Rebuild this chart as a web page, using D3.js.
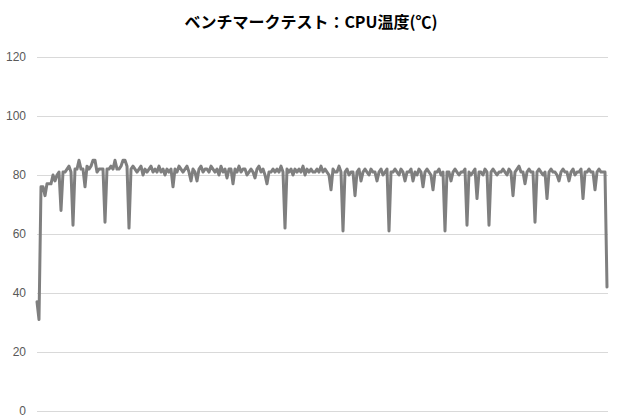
<!DOCTYPE html>
<html>
<head>
<meta charset="utf-8">
<script src="https://cdn.jsdelivr.net/npm/d3@7"></script>
<style>
  body { margin: 0; background: #fff; }
  #chart svg { display: block; }
</style>
</head>
<body>
<div id="chart"></div>
<script>
(function() {
  'use strict';

  // chart title and y axis ticks
  var chartTitle = 'ベンチマークテスト：CPU温度(℃)';
  var yTicks = [0, 20, 40, 60, 80, 100, 120];

  // CPU temperature samples left to right
  var temps = [
    37,31,76,76,73,77,77,77,80,78,80,81,68,81,81,82,83,81,63,82,
    82,85,82,82,76,83,82,83,85,85,81,82,82,82,64,82,82,83,82,85,
    82,82,83,85,85,83,62,82,83,82,81,82,83,80,82,81,82,83,81,82,
    81,83,81,82,80,82,81,82,76,82,81,83,82,81,82,83,81,78,82,81,
    78,82,83,81,82,82,81,83,82,81,82,80,83,81,82,79,82,82,77,82,
    81,83,81,82,82,80,81,82,81,79,82,83,81,82,80,77,81,81,82,81,
    82,81,83,81,62,82,81,82,80,82,81,82,81,83,80,82,81,82,81,81,
    82,81,83,81,82,81,80,75,82,81,81,83,81,61,81,82,80,81,81,73,
    81,82,78,81,82,81,80,82,81,81,78,81,82,80,81,82,61,81,81,82,
    81,80,82,81,78,81,81,82,78,81,80,82,81,76,81,82,81,80,75,81,
    81,82,80,81,61,81,81,78,81,82,81,80,81,81,82,63,81,80,81,82,
    72,81,81,80,82,81,63,81,82,81,80,81,81,82,81,80,82,81,73,81,
    82,83,81,81,77,81,82,81,81,64,81,82,81,80,81,72,81,82,81,81,
    80,78,81,82,81,81,78,81,82,80,81,81,82,72,81,81,82,81,81,75,
    81,82,81,81,81,42
  ];

  var width = 620, height = 420;
  var margin = {top: 57, right: 10, bottom: 9, left: 37};

  var svg = d3.select('#chart').append('svg')
    .attr('width', width)
    .attr('height', height);

  var x = d3.scaleLinear()
    .domain([0, temps.length - 1])
    .range([margin.left, 607]);

  var y = d3.scaleLinear()
    .domain([0, 120])
    .range([height - margin.bottom, margin.top]);

  // title
  svg.append('text')
    .attr('x', 311)
    .attr('y', 28)
    .attr('text-anchor', 'middle')
    .style('font-family', '"Noto Sans CJK JP", "Noto Sans", sans-serif')
    .style('font-weight', 'bold')
    .style('font-size', '16px')
    .style('fill', '#000')
    .text(chartTitle);

  // gridlines + tick labels from a left axis
  var yAxis = d3.axisLeft(y)
    .tickValues(yTicks)
    .tickSize(-(width - margin.right - margin.left - 2))
    .tickPadding(11)
    .tickFormat(d3.format('d'));

  var g = svg.append('g')
    .attr('transform', 'translate(' + margin.left + ',0)')
    .call(yAxis);

  g.select('.domain').remove();
  g.selectAll('.tick line')
    .attr('stroke', '#d9d9d9')
    .attr('stroke-width', 1);
  g.selectAll('.tick text')
    .style('font-family', '"Liberation Sans Narrow", "Liberation Sans", sans-serif')
    .style('font-size', '12px')
    .style('fill', '#595959');

  // the temperature line
  var line = d3.line()
    .x(function(d, i) { return x(i); })
    .y(function(d) { return y(d); });

  svg.append('path')
    .datum(temps)
    .attr('fill', 'none')
    .attr('stroke', '#7f7f7f')
    .attr('stroke-width', 3)
    .attr('stroke-linejoin', 'round')
    .attr('stroke-linecap', 'round')
    .attr('d', line);
})();
</script>
</body>
</html>
